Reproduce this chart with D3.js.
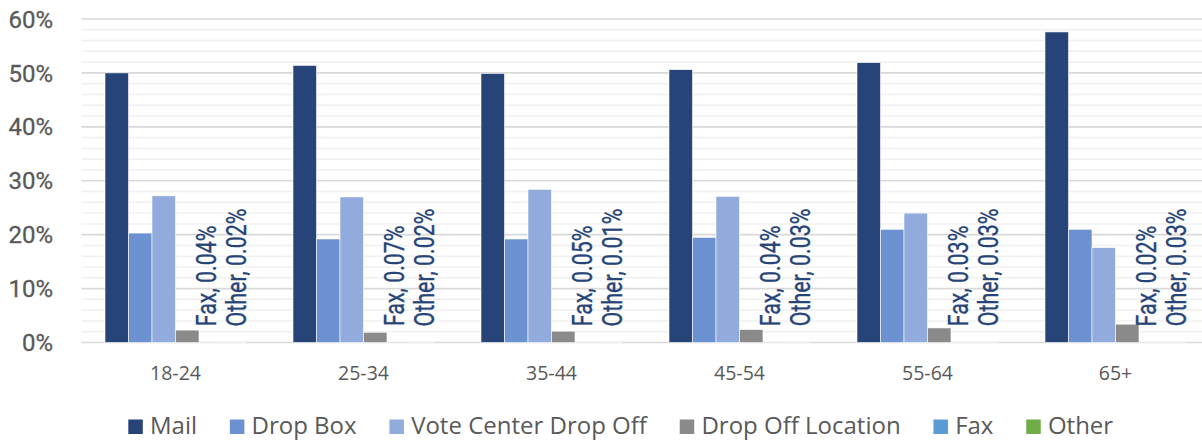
<!DOCTYPE html>
<html>
<head>
<meta charset="utf-8">
<script src="https://cdn.jsdelivr.net/npm/d3@7"></script>
<style>
  body { margin: 0; background: #fff; }
  svg { display: block; }
  .cond { font-family: Roboto, "Liberation Sans", sans-serif; }
  .open { font-family: "Open Sans", "Noto Sans", sans-serif; }
</style>
</head>
<body>
<svg id="chart" width="1202" height="440"></svg>
<script>
// ---------------------------------------------------------------------------
// DATA (percent of ballots returned, by age group)
// ---------------------------------------------------------------------------
const ageGroups = ['18-24', '25-34', '35-44', '45-54', '55-64', '65+'];
const seriesNames = ['Mail', 'Drop Box', 'Vote Center Drop Off', 'Drop Off Location', 'Fax', 'Other'];
const mail = [50.0, 51.4, 49.9, 50.6, 51.9, 57.6];
const dropBox = [20.3, 19.2, 19.2, 19.5, 21.0, 21.0];
const voteCenter = [27.2, 27.0, 28.4, 27.1, 24.0, 17.6];
const dropOffLocation = [2.3, 1.9, 2.1, 2.4, 2.7, 3.4];
const fax = [0.04, 0.07, 0.05, 0.04, 0.03, 0.02];
const other = [0.02, 0.02, 0.01, 0.03, 0.03, 0.03];
const yTicks = [0, 10, 20, 30, 40, 50, 60];

const seriesValues = [mail, dropBox, voteCenter, dropOffLocation, fax, other];
const colors = ['#264478', '#6b91d0', '#91acdc', '#8a8a8a', '#5b9bd5', '#70ad47'];
const labelColor = '#264478';
const axisText = '#595959';

// ---------------------------------------------------------------------------
// SCALES
// ---------------------------------------------------------------------------
const svg = d3.select('#chart');
const plotLeft = 81.5;
const plotRight = 1209.5; // plot runs off the right edge in the original

const x0 = d3.scaleBand()
  .domain(ageGroups)
  .range([plotLeft, plotRight])
  .paddingInner(0.25)
  .paddingOuter(0.125);

const x1 = d3.scaleBand()
  .domain(seriesNames)
  .range([0, x0.bandwidth()]);

const y = d3.scaleLinear()
  .domain([0, 60])
  .range([342.5, 19]);

// ---------------------------------------------------------------------------
// GRID
// ---------------------------------------------------------------------------
const minor = d3.range(0, 61, 2).filter(v => v % 10 !== 0);
svg.append('g')
  .selectAll('line')
  .data(minor)
  .join('line')
    .attr('x1', plotLeft)
    .attr('x2', 1202)
    .attr('y1', d => y(d))
    .attr('y2', d => y(d))
    .attr('stroke', '#f0f0f0')
    .attr('stroke-width', 1.5);

svg.append('g')
  .selectAll('line')
  .data(yTicks)
  .join('line')
    .attr('x1', plotLeft)
    .attr('x2', 1202)
    .attr('y1', d => y(d))
    .attr('y2', d => y(d))
    .attr('stroke', '#d9d9d9')
    .attr('stroke-width', 1.6);

// y labels
svg.append('g')
  .selectAll('text')
  .data(yTicks)
  .join('text')
    .attr('class', 'cond')
    .attr('x', 53)
    .attr('y', d => y(d))
    .attr('dy', '0.36em')
    .attr('text-anchor', 'end')
    .attr('fill', axisText)
    .attr('stroke', axisText)
    .attr('stroke-width', 0.3)
    .attr('font-size', 24)
    .text(d => `${d}%`);

// x labels
svg.append('g')
  .selectAll('text')
  .data(ageGroups)
  .join('text')
    .attr('class', 'open')
    .attr('x', d => x0(d) + x0.bandwidth() / 2)
    .attr('y', 380)
    .attr('text-anchor', 'middle')
    .attr('fill', axisText)
    .attr('font-size', 19.5)
    .text(d => d);

// ---------------------------------------------------------------------------
// BARS
// ---------------------------------------------------------------------------
const groups = svg.append('g')
  .selectAll('g')
  .data(ageGroups)
  .join('g')
    .attr('transform', d => `translate(${x0(d)},0)`);

groups.selectAll('rect')
  .data((d, i) => seriesNames.map((s, k) => ({ series: s, value: seriesValues[k][i] })))
  .join('rect')
    .attr('x', d => x1(d.series))
    .attr('width', x1.bandwidth())
    .attr('y', d => y(d.value))
    .attr('height', d => y(0) - y(d.value))
    .attr('fill', d => colors[seriesNames.indexOf(d.series)])
    .attr('stroke', '#fff')
    .attr('stroke-width', 0.6);

// rotated data labels for the tiny series (narrowed to mimic a condensed face)
const labelShift = { Fax: 5.5, Other: 11.5 };
groups.selectAll('text.lbl')
  .data((d, i) => ['Fax', 'Other'].map(s => ({ series: s, value: seriesValues[seriesNames.indexOf(s)][i] })))
  .join('text')
    .attr('class', 'lbl cond')
    .attr('transform', d => `translate(${x1(d.series) + x1.bandwidth() / 2 + labelShift[d.series]},${y(d.value) - 16}) rotate(-90) scale(0.765,1)`)
    .attr('fill', labelColor)
    .attr('font-size', 28)
    .attr('stroke', labelColor)
    .attr('stroke-width', 0.35)
    .text(d => `${d.series}, ${d.value.toFixed(2)}%`);

// ---------------------------------------------------------------------------
// LEGEND
// ---------------------------------------------------------------------------
const legend = svg.append('g');
const item = legend.selectAll('g')
  .data(seriesNames)
  .join('g');

item.append('rect')
  .attr('width', 14.5)
  .attr('height', 14.5)
  .attr('y', -14.5)
  .attr('fill', (d, i) => colors[i]);

item.append('text')
  .attr('class', 'open')
  .attr('x', 21.7)
  .attr('fill', axisText)
  .attr('font-size', 24)
  .text(d => d);

let cursor = 128.3;
item.each(function() {
  const w = d3.select(this).select('text').node().getComputedTextLength();
  d3.select(this).attr('transform', `translate(${cursor},434)`);
  cursor += 21.7 + w + 32.8;
});
</script>
</body>
</html>
